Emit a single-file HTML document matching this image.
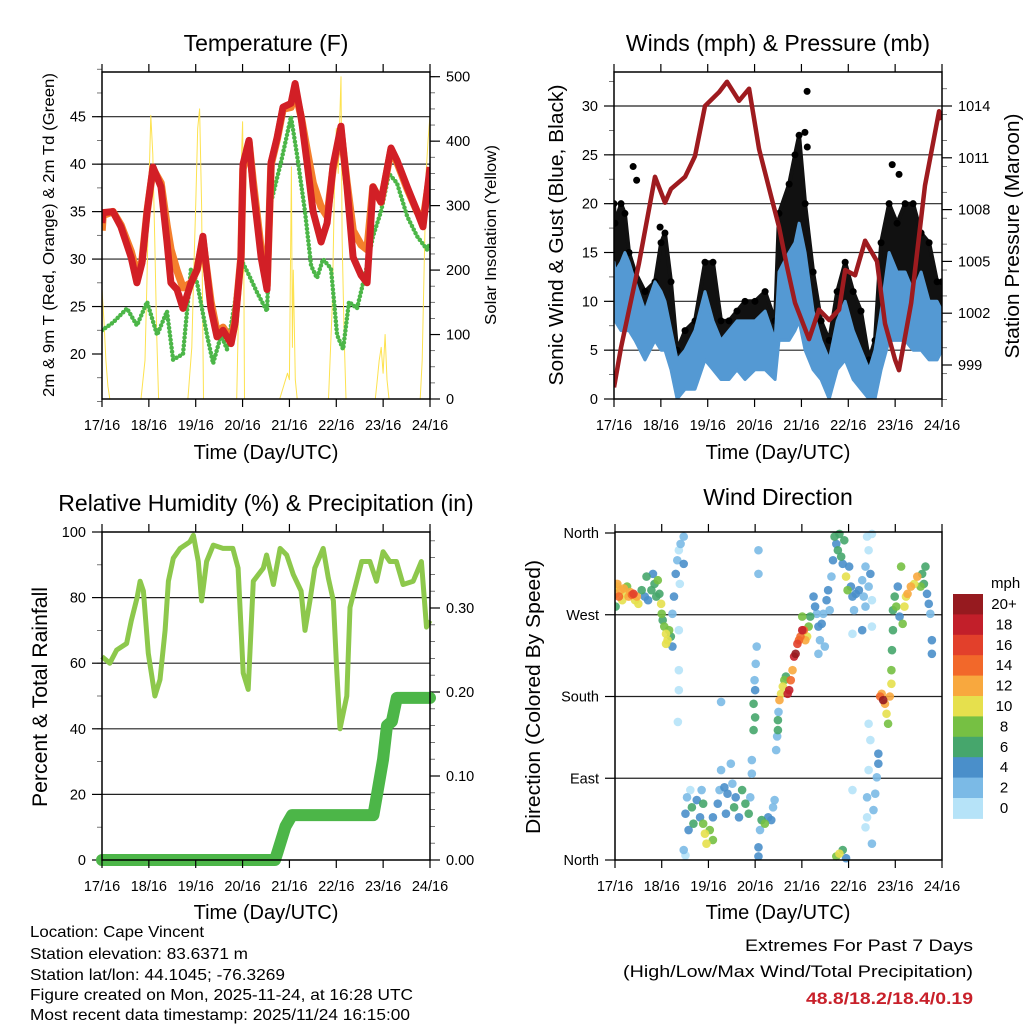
<!DOCTYPE html>
<html><head><meta charset="utf-8">
<style>
html,body{margin:0;padding:0;background:#fff;}
svg{display:block;font-family:"Liberation Sans",sans-serif;}
</style></head>
<body>
<svg id="fig" width="1024" height="1024" viewBox="0 0 1024 1024" xmlns="http://www.w3.org/2000/svg">
<defs>
<clipPath id="c1"><rect x="102" y="72" width="328" height="327"/></clipPath>
<clipPath id="c2"><rect x="614" y="72" width="328" height="327"/></clipPath>
<clipPath id="c3"><rect x="96" y="526" width="340" height="340"/></clipPath>
<clipPath id="c4"><rect x="615" y="529" width="327" height="334"/></clipPath>
</defs>
<g id="layer"></g>
<text x="266" y="51" font-size="23" text-anchor="middle">Temperature (F)</text>
<text x="778" y="51" font-size="23" text-anchor="middle">Winds (mph) &amp; Pressure (mb)</text>
<text x="266" y="511" font-size="23" text-anchor="middle">Relative Humidity (%) &amp; Precipitation (in)</text>
<text x="778" y="505" font-size="23" text-anchor="middle">Wind Direction</text>
<text x="266" y="459" font-size="20" text-anchor="middle">Time (Day/UTC)</text>
<text x="778" y="459" font-size="20" text-anchor="middle">Time (Day/UTC)</text>
<text x="266" y="919" font-size="20" text-anchor="middle">Time (Day/UTC)</text>
<text x="778" y="919" font-size="20" text-anchor="middle">Time (Day/UTC)</text>
<text transform="translate(54,235) rotate(-90)" font-size="16" text-anchor="middle" textLength="324" lengthAdjust="spacingAndGlyphs">2m &amp; 9m T (Red, Orange) &amp; 2m Td (Green)</text>
<text transform="translate(496,235) rotate(-90)" font-size="16" text-anchor="middle" textLength="180" lengthAdjust="spacingAndGlyphs">Solar Insolation (Yellow)</text>
<text transform="translate(563,235) rotate(-90)" font-size="20" text-anchor="middle" textLength="301" lengthAdjust="spacingAndGlyphs">Sonic Wind &amp; Gust (Blue, Black)</text>
<text transform="translate(1019,236) rotate(-90)" font-size="20" text-anchor="middle" textLength="245" lengthAdjust="spacingAndGlyphs">Station Pressure (Maroon)</text>
<text transform="translate(47,697) rotate(-90)" font-size="21" text-anchor="middle" textLength="220" lengthAdjust="spacingAndGlyphs">Percent &amp; Total Rainfall</text>
<text transform="translate(540,697) rotate(-90)" font-size="20" text-anchor="middle" textLength="274" lengthAdjust="spacingAndGlyphs">Direction (Colored By Speed)</text>
<g font-size="16">
<text x="30" y="937" textLength="174" lengthAdjust="spacingAndGlyphs">Location: Cape Vincent</text>
<text x="30" y="959" textLength="218" lengthAdjust="spacingAndGlyphs">Station elevation: 83.6371 m</text>
<text x="30" y="980" textLength="255" lengthAdjust="spacingAndGlyphs">Station lat/lon: 44.1045; -76.3269</text>
<text x="30" y="1000" textLength="383" lengthAdjust="spacingAndGlyphs">Figure created on Mon, 2025-11-24, at 16:28 UTC</text>
<text x="30" y="1020" textLength="380" lengthAdjust="spacingAndGlyphs">Most recent data timestamp: 2025/11/24 16:15:00</text>
</g>
<g font-size="17" text-anchor="end">
<text x="973" y="951" textLength="228" lengthAdjust="spacingAndGlyphs">Extremes For Past 7 Days</text>
<text x="973" y="977" textLength="350" lengthAdjust="spacingAndGlyphs">(High/Low/Max Wind/Total Precipitation)</text>
<text x="973" y="1004" fill="#c8202a" font-weight="bold" textLength="167" lengthAdjust="spacingAndGlyphs">48.8/18.2/18.4/0.19</text>
</g>
</svg>
<script>
// ---------- DATA ----------
const dayLabels = ["17/16","18/16","19/16","20/16","21/16","22/16","23/16","24/16"];
const tempTicks = [20,25,30,35,40,45];
const solarTicks = [0,100,200,300,400,500];
const windTicks = [0,5,10,15,20,25,30];
const pressTicks = [999,1002,1005,1008,1011,1014];
const rhTicks = [0,20,40,60,80,100];
const precipTicks = [0.00,0.10,0.20,0.30];
const dirTicks = [0,90,180,270,360];
const dirLabels = ["North","East","South","West","North"];
const speedBins = ["0","2","4","6","8","10","12","14","16","18","20+"];

const tHours = [0,0.5,5.6,9.7,14.9,17.9,20.5,23.1,26.1,30.2,33.3,35.3,38.4,41.5,45.6,48.7,51.7,55.8,58.9,62,66.1,68.1,71.2,72.2,75.3,77.4,81.5,84.5,86.6,89.7,92.7,96.8,98.9,102,105,108.1,112.2,115.3,118.3,122.4,125.5,128.6,132.7,135.8,138.8,142.9,148,151.1,156.3,161.4,164.4,168];
const tRed = [33.8,34.9,35,33.4,30.2,27.5,29.6,35,39.7,37.6,31.8,27.5,26.8,24.8,27.5,28.9,32.4,24.8,21.8,22.5,21.1,23.2,30.2,40,42.5,37.6,30.2,26.8,40.2,42.8,46,46.4,48.5,45,40.2,35,31.8,33.8,39.8,44,37.6,30.2,28.3,27.5,37.6,36,41.7,40.4,37.6,35,33.4,39.7];
const tOrange = [33,34.6,35,33.6,30.8,28.5,29.8,35,39.5,38,33.5,31,28.8,27,27.5,28.9,32,25.5,22.3,22.8,21.5,23.4,30.2,39.5,42.3,38.2,31,27.2,40,42.6,45.8,46,47.8,45,41.5,38,35.5,34.5,39.5,43.5,38,33,31.5,31,37.6,36,41.5,40.2,37.4,35,34,39];
const dHours = [0,5.6,12.8,17.9,23.1,28.2,33.3,36.4,41.5,45.6,48.7,53.8,56.9,61,64,68.1,71.2,75.3,79.4,84.5,86.6,91.7,96.8,99.9,104,107.1,110.1,113.2,117.3,120.4,123.5,126.5,130.6,134.7,138.8,142.9,147,151.1,156.3,161.4,166.5,168];
const tDew = [22.5,23.3,24.8,23,25.5,22,24.5,19.4,20,29,27.5,22,19,22,20.5,25.5,30,28.3,26.5,24.5,36,40.2,45,41,35,29.3,28,30,29,22,20.5,25.5,24.8,28.3,32.4,35,39,38,34.5,32.4,31,31.7];
const sHours = [0,1,2,3,4, 20,22,23,24,25,26,27,28,29, 44,46,47,48,49,50,51,52, 69,70,71,72,72.5,73, 91,93,95,96,97,97.5,98,99,100, 116,118,119,120,121,122.4,123,124,125, 140,141,142,143,144,145,146,147, 163,164,165,166,167,168];
const sVals = [170,120,60,20,0, 0,60,180,330,440,380,250,100,0, 0,80,200,300,420,450,300,0, 0,150,330,430,300,0, 0,20,40,30,360,80,200,30,0, 0,150,320,420,350,500,250,100,0, 0,30,60,80,40,100,30,0, 0,60,200,350,400,440];

const wHours = [0,0.5,3.6,5.6,7.7,10.8,15.9,21,24.1,26.1,29.2,32.3,36.4,41.5,46.6,50.7,54.8,58.9,63,67.1,72.2,77.4,82.5,84.5,89.7,92.7,94.8,97.9,102,106.1,110.2,114.3,118.4,122.5,126.5,130.6,133.7,136.8,140.9,145,149.1,153.2,157.3,161.4,165.5,168];
const wLo = [8,8,7,7,7,6,4,6,5,5,3,0,1,1,4,3,2,2,3,2,3,3,2,6,6,7,8,5,3,2,0,3,4,2,1,0,0,3,6,6,6,5,5,4,4,5];
const wHi = [14,13,14,15,14,12,9,12,11,10,7,4,5,7,11,8,6,7,8,8,8,9,6,13,15,16,18,15,9,6,4,8,10,7,5,3,5,9,15,13,13,11,13,10,10,9];
const gHi = [20,18,20,19,15,13,11,12,16,17,12,5,7,8,14,14,8,8,9,10,10,11,8,19,22,25,27,20,13,8,6,11,14,11,9,4,6,16,20,18,20,20,17,16,12,12];
const gOutHours = [9.8,11.6,23.6,97.8,98.9,99,142.5,146];
const gOutVals = [23.8,22.4,17.6,27.3,31.5,25.8,24,23];
const pHours = [0,3.6,12.8,21,26.1,29.2,36.4,41.5,46.6,53.8,57.9,64,69.2,74.3,80.4,84.5,88.6,92.7,99.9,105,110.2,115.3,118.4,123.5,128.6,134.7,138.8,144,146,152.2,159.3,166.5,168];
const pVals = [997.7,1000,1004.9,1009.9,1008.4,1009.2,1009.9,1011.1,1014,1014.8,1015.4,1014.3,1015,1011.5,1008.8,1007,1004.7,1002.6,1000.5,1002.2,1001.6,1002.2,1004.5,1004.2,1006.2,1005,1001.4,999.3,998.7,1002.6,1009.4,1013.7,1013.2];

const rhHours = [0,4,7.5,12.6,15,18,19.5,21.2,23.7,27.1,29.7,32.3,34,36.5,40,45,46.8,49.3,51,53.6,57,62,67,69.7,72.3,74.9,77.5,82.6,84.3,87.8,91.2,94.6,98,102,104,106.5,109,113.3,115.9,118.5,120.2,121.9,125.4,127,129.6,133,137.2,140.6,144,147.4,150.8,154.2,159.4,163.6,166.2,168];
const rhVals = [62,60,64,66,73,80,85,82,63,50,55,70,85,92,95,97,99,91,79,91,96,95,95,89,57,52,85,89,93,84,95,93,87,82,70,79,89,95,86,79,58,40,50,77,83,91,91,85,94,91,91,84,85,91,71,73];
const prHours = [0,88.6,90,92,94,97.3,139,141,144,146,148.5,151,168];
const prVals = [0,0,0.01,0.025,0.04,0.0535,0.0535,0.08,0.12,0.16,0.165,0.193,0.193];

const wdHours = [0.3,1.2,2,2.8,3.7,4.5,5.3,6.2,7,7.8,8.7,9.5,10.3,11.2,12,0.3,1.2,
13.7,15.3,16.2,17,18.7,19.5,20.3,21.2,22,22.8,23.7,24,24.5,
25.3,26.2,27,27.8,28.7,29.5,26.2,
29.5,30.3,31.2,32,32.8,33.7,35.3,35.3,33.3,32.8,32.8,32.8,32.3,
36.2,37,37.8,38.7,39.5,40.3,42,43.7,45.3,46.2,47,48.7,50.3,50.3,35.3,36.2,44.5,45.3,
52.8,53.7,54.5,56.2,57,57.8,59.5,60.3,61.2,62,63.7,65.3,67,68.7,69.5,54.5,
71.2,72,71.2,71.7,72.3,72.8,72,73.7,73.7,70.3,70.3,
73.7,74.5,75.3,77,78.7,80.3,81.2,82,73.7,
82.8,83.3,83.7,83.7,84,
84.5,85.3,86.2,87,87.8,88.7,89.5,90.3,91.2,92,92.8,93.7,94.5,95.3,96.2,97,97.8,98.7,99.5,100.3,96.2,
102,102.8,103.7,104.5,105.3,104.5,106.2,107,108.7,109.5,110.3,111.2,107.8,
112,112.8,113.7,114.5,115.3,116.2,117,118.7,119.5,120.3,117.8,
121.2,122,122.8,123.7,125.3,127,127.8,128.7,128.7,130.3,131.2,132,132,129.5,132,130.3,122,127,
130.3,131.2,130.3,129.5,129.5,128.7,132,133.7,134.5,135.3,135.3,132.8,122,113.7,115.3,117,118.7,
136.2,137,137.8,138.7,139.5,140.3,141.2,142,142,142.3,142.8,
142.8,143.7,144.5,145.3,146.2,147,147.8,148.7,149.5,150.3,152,153.7,155.3,157,157.8,158.7,160.3,161.2,162,162.8,162.8,159.5];
const wdDeg = [293,301,290,297,286,299,293,301,290,295,292,293,286,290,282,279,304,
297,290,312,286,297,315,304,290,308,293,282,271,264,
257,249,242,253,246,235,238,
271,290,315,330,341,348,356,326,304,253,209,187,152,
51,69,33,77,58,40,66,47,40,29,18,33,47,22,11,5,77,62,
62,77,99,80,51,73,106,84,58,69,47,77,62,51,69,174,
172,157,143,198,216,235,187,341,315,110,95,
14,33,44,40,47,44,58,66,4,
121,136,143,154,163,
176,183,191,198,202,183,187,198,209,224,227,238,242,246,253,253,242,246,257,268,268,
290,279,271,257,242,227,260,271,286,297,275,312,235,
330,356,348,341,359,334,326,312,297,323,352,
301,290,275,293,297,308,290,323,279,301,315,286,257,356,359,341,249,253,
150,132,99,69,47,36,18,73,91,106,117,55,77,4,7,11,2,
180,183,176,172,161,150,180,194,209,231,253,
275,290,279,301,268,323,260,279,290,293,301,304,312,301,315,304,293,282,271,242,227,323];
const wdSpd = [12,10,14,12,11,13,10,9,12,13,14,16,11,12,10,7,12,
6,5,7,4,6,4,7,6,8,7,10,8,7,
8,10,10,9,7,4,10,
3,5,4,2,1,2,3,4,1,1,1,1,1,
4,2,5,1,6,6,4,5,9,10,10,9,5,9,3,1,2,7,
4,2,2,4,5,5,3,3,6,5,4,6,6,6,3,2,
6,6,6,3,3,3,4,3,2,3,3,
4,3,7,8,5,4,2,3,4,
2,2,7,6,2,
12,10,10,8,6,18,18,14,12,18,20,16,14,15,18,14,12,10,8,7,9,
4,4,3,4,2,2,4,3,4,4,2,2,3,
4,6,5,6,6,7,5,10,8,5,6,
4,4,3,4,4,2,2,2,2,2,4,1,1,1,1,1,1,4,
1,1,1,2,1,1,2,3,3,4,4,2,1,8,10,6,5,
14,12,20,12,10,8,12,10,9,7,6,
6,7,8,4,4,8,9,10,10,12,12,11,12,8,7,7,4,4,2,5,4,6];

// ---------- HELPERS ----------
const NS = "http://www.w3.org/2000/svg";
const layer = document.getElementById("layer");
function mk(tag, attrs, parent){
  const e = document.createElementNS(NS, tag);
  for (const k in attrs) e.setAttribute(k, attrs[k]);
  (parent || layer).appendChild(e);
  return e;
}
function xScale(x0, x1){ return h => x0 + h/168*(x1-x0); }
function lin(v0, p0, v1, p1){ return v => p0 + (v-v0)/(v1-v0)*(p1-p0); }
const speedColors = ["#b6e3f8","#7bbae6","#4a8fca","#46a66c","#76c043","#e6e04d","#f8a83e","#f2682a","#e2402b","#c21f2a","#961a1f"];

function frame(x0, y0, x1, y1, name){
  const r = mk("rect", {x:x0, y:y0, width:x1-x0, height:y1-y0, fill:"none", stroke:"#000", "stroke-width":1.5});
  
  
}
function xAxis(x0, x1, y0, y1, labelY, name){
  const g = mk("g", {});
  
  
  const xs = xScale(x0, x1);
  dayLabels.forEach((lab, i) => {
    const x = xs(i*24);
    mk("line", {x1:x, x2:x, y1:y1, y2:y1+8, stroke:"#000", "stroke-width":1.2}, g);
    mk("line", {x1:x, x2:x, y1:y0, y2:y0-8, stroke:"#000", "stroke-width":1.2}, g);
    const t = mk("text", {x:x, y:labelY, "font-size":14.5, "text-anchor":"middle"}, g);
    t.textContent = lab;
    
    
  });
}
function yAxis(ticks, ys, xEdge, side, fmt, minorStep, lo, hi, name, grid, gx0, gx1){
  const g = mk("g", {});
  
  
  const d = side === "left" ? -1 : 1;
  if (minorStep){
    for (let v = lo; v <= hi + 1e-9; v += minorStep){
      const y = ys(v);
      mk("line", {x1:xEdge, x2:xEdge+d*5, y1:y, y2:y, stroke:"#555", "stroke-width":0.8}, g);
    }
  }
  ticks.forEach((v, i) => {
    const y = ys(v);
    mk("line", {x1:xEdge, x2:xEdge+d*10, y1:y, y2:y, stroke:"#000", "stroke-width":1.2}, g);
    if (grid && i > 0 && y > 80 && Math.abs(y-860) > 2 && Math.abs(y-532) > 2){
      const gl = mk("line", {x1:gx0, x2:gx1, y1:y, y2:y, stroke:"#222", "stroke-width":1.2}, g);
      
      
    }
    const t = mk("text", {x:xEdge + d*16, y:y+5, "font-size":14.5, "text-anchor": side === "left" ? "end" : "start"}, g);
    t.textContent = fmt(v, i);
    
    
  });
}
function pathFrom(hs, vs, xs, ys){
  return hs.map((h, i) => (i ? "L" : "M") + xs(h).toFixed(1) + "," + ys(vs[i]).toFixed(1)).join("");
}

// ---------- PANEL 1: TEMPERATURE ----------
(function(){
  const x0=102, x1=430, y0=72, y1=399;
  const xs = xScale(x0, x1);
  const yT = lin(20, 354, 45, 116.7);
  const yS = lin(0, 399, 500, 76.7);
  yAxis(tempTicks, yT, x0, "left", v => v, 2.5, 15, 50, "temp-left-axis", true, x0, x1);
  yAxis(solarTicks, yS, x1, "right", v => v, 25, 0, 500, "solar-right-axis", false);
  const g = mk("g", {"clip-path":"url(#c1)"});
  
  
  const s = mk("path", {d:pathFrom(sHours, sVals, xs, yS), fill:"none", stroke:"#fde24f", "stroke-width":1, "stroke-linejoin":"round"}, g);
  
  
  const d = mk("path", {d:pathFrom(dHours, tDew, xs, yT), fill:"none", stroke:"#4cb648", "stroke-width":4.5, "stroke-linecap":"round", "stroke-linejoin":"round", "stroke-dasharray":"0 4"}, g);
  
  
  const o = mk("path", {d:pathFrom(tHours, tOrange, xs, yT), fill:"none", stroke:"#f47f2c", "stroke-width":7.5, "stroke-linejoin":"round"}, g);
  
  
  const r = mk("path", {d:pathFrom(tHours, tRed, xs, yT), fill:"none", stroke:"#d21f26", "stroke-width":7, "stroke-linejoin":"round"}, g);
  
  
  frame(x0, y0, x1, y1, "temperature-frame");
  xAxis(x0, x1, y0, y1, 430, "temp-x-axis");
})();

// ---------- PANEL 2: WINDS ----------
(function(){
  const x0=614, x1=942, y0=72, y1=399;
  const xs = xScale(x0, x1);
  const yW = lin(0, 399, 30, 106);
  const yP = lin(999, 365, 1014, 106);
  yAxis(windTicks, yW, x0, "left", v => v, 2.5, 0, 33.5, "wind-left-axis", true, x0, x1);
  yAxis(pressTicks, yP, x1, "right", v => v, 1.5, 997, 1016, "pressure-right-axis", false);
  const g = mk("g", {"clip-path":"url(#c2)"});
  
  
  let gp = wHours.map((h,i)=>xs(h).toFixed(1)+","+yW(gHi[i]).toFixed(1));
  let gb = wHours.map((h,i)=>xs(h).toFixed(1)+","+yW(wHi[i]-1).toFixed(1)).reverse();
  const gust = mk("polygon", {points:gp.concat(gb).join(" "), fill:"#111", stroke:"#111", "stroke-width":4, "stroke-linejoin":"round"}, g);
  
  
  wHours.forEach((h,i)=>{
    const c = mk("circle", {cx:xs(h), cy:yW(gHi[i]), r:3.5, fill:"#000"}, g);
    
    
  });
  gOutHours.forEach((h,i)=>{
    const c = mk("circle", {cx:xs(h), cy:yW(gOutVals[i]), r:3.5, fill:"#000"}, g);
    
    
  });
  let bp = wHours.map((h,i)=>xs(h).toFixed(1)+","+yW(wHi[i]).toFixed(1));
  let bb = wHours.map((h,i)=>xs(h).toFixed(1)+","+yW(wLo[i]).toFixed(1)).reverse();
  const wind = mk("polygon", {points:bp.concat(bb).join(" "), fill:"#5499d3", stroke:"#5499d3", "stroke-width":3, "stroke-linejoin":"round"}, g);
  
  
  const p = mk("path", {d:pathFrom(pHours, pVals, xs, yP), fill:"none", stroke:"#9e1b1f", "stroke-width":4.5, "stroke-linejoin":"round"}, g);
  
  
  frame(x0, y0, x1, y1, "winds-frame");
  xAxis(x0, x1, y0, y1, 430, "winds-x-axis");
})();

// ---------- PANEL 3: RH & PRECIP ----------
(function(){
  const x0=102, x1=430, y0=532, y1=860;
  const xs = xScale(x0, x1);
  const yR = lin(0, 860, 100, 532);
  const yPr = lin(0, 860, 0.1, 776);
  yAxis(rhTicks, yR, x0, "left", v => v, 10, 0, 100, "rh-left-axis", true, x0, x1);
  yAxis(precipTicks, yPr, x1, "right", v => v.toFixed(2), 0.02, 0, 0.38, "precip-right-axis", false);
  const g = mk("g", {"clip-path":"url(#c3)"});
  
  
  const rh = mk("path", {d:pathFrom(rhHours, rhVals, xs, yR), fill:"none", stroke:"#8dc84c", "stroke-width":5, "stroke-linejoin":"round"}, g);
  
  
  const pr = mk("path", {d:pathFrom(prHours, prVals, xs, yPr), fill:"none", stroke:"#4cb648", "stroke-width":12, "stroke-linecap":"round", "stroke-linejoin":"round"}, g);
  
  
  frame(x0, y0, x1, y1, "rh-frame");
  xAxis(x0, x1, y0, y1, 891, "rh-x-axis");
})();

// ---------- PANEL 4: WIND DIRECTION ----------
(function(){
  const x0=615, x1=942, y0=532, y1=860;
  const xs = xScale(x0, x1);
  const yD = lin(0, 860, 360, 533);
  yAxis(dirTicks, yD, x0, "left", (v,i) => dirLabels[i], 0, 0, 0, "direction-left-axis", true, x0, x1);
  const g = mk("g", {"clip-path":"url(#c4)"});
  
  
  const order = wdHours.map((h,i)=>i).sort((a,b)=>wdSpd[a]-wdSpd[b]);
  order.forEach(i=>{
    const bin = Math.min(10, Math.floor(wdSpd[i]/2));
    const c = mk("circle", {cx:xs(wdHours[i]), cy:yD(wdDeg[i]), r:4.3, fill:speedColors[bin], "fill-opacity":0.9}, g);
    
    
  });
  frame(x0, y0, x1, y1, "direction-frame");
  xAxis(x0, x1, y0, y1, 891, "direction-x-axis");
  const lg = mk("g", {});
  
  
  const u = mk("text", {x:991, y:588, "font-size":15}, lg);
  u.textContent = "mph";
  
  
  const bh = 20.4;
  speedBins.slice().reverse().forEach((lab, j) => {
    const idx = 10 - j;
    const y = 594 + j*bh;
    const r = mk("rect", {x:953, y:y, width:30, height:bh+0.5, fill:speedColors[idx]}, lg);
    
    
    const t = mk("text", {x:1004, y:y+15, "font-size":15, "text-anchor":"middle"}, lg);
    t.textContent = lab;
    
    
  });
})();
</script>
</body></html>
